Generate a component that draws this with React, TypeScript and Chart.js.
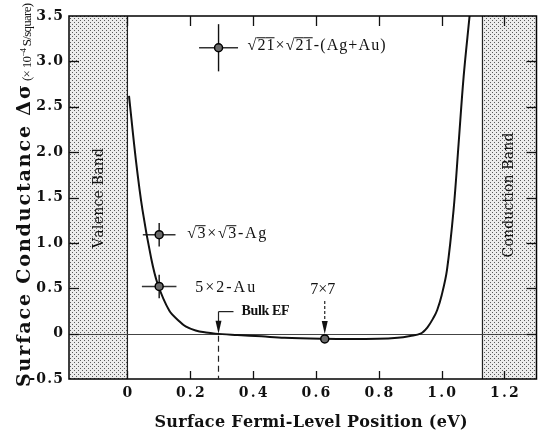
import React, { useEffect, useRef } from "react";
import { Chart, registerables } from "chart.js";
Chart.register(...registerables);

// ---- data ----
const curveX = [0.005, 0.027, 0.048, 0.075, 0.096, 0.133, 0.164, 0.185, 0.217, 0.25, 0.28, 0.35, 0.427, 0.5, 0.628, 0.7, 0.796, 0.86, 0.9, 0.933, 0.955, 0.975, 0.986, 1.0, 1.017, 1.038, 1.054, 1.07, 1.089];
const curveY = [2.62, 1.91, 1.36, 0.84, 0.55, 0.255, 0.14, 0.08, 0.035, 0.012, 0.0, -0.015, -0.03, -0.045, -0.057, -0.06, -0.057, -0.045, -0.025, 0.0, 0.07, 0.18, 0.26, 0.42, 0.7, 1.36, 2.09, 2.83, 3.5];

const structLabels = ["√21×√21-(Ag+Au)", "√3×√3-Ag", "5×2-Au", "7×7"];
const structX = [0.29, 0.101, 0.101, 0.628];
const structY = [3.15, 1.09, 0.52, -0.058];
const structXErr = [0.062, 0.052, 0.055, 0];
const structYErr = [0.26, 0.13, 0.13, 0];

const xTicks = [0, 0.2, 0.4, 0.6, 0.8, 1.0, 1.2];
const xTickLabels = ["0", "0.2", "0.4", "0.6", "0.8", "1.0", "1.2"];
const yTicks = [-0.5, 0, 0.5, 1.0, 1.5, 2.0, 2.5, 3.0, 3.5];
const yTickLabels = ["-0.5", "0", "0.5", "1.0", "1.5", "2.0", "2.5", "3.0", "3.5"];

const X_MIN = -0.186;
const X_MAX = 1.302;
const Y_MIN = -0.5;
const Y_MAX = 3.5;
const valenceBandTop = 0;
const conductionBandBottom = 1.13;
const bulkEF = 0.287;

const SERIF = "'DejaVu Serif', 'Liberation Serif', serif";
const TIMES = "'Liberation Serif', 'DejaVu Serif', serif";

type Run = { text: string; font: string; dy?: number; size?: number };

function drawRuns(
  ctx: CanvasRenderingContext2D,
  runs: Run[],
  x: number,
  y: number,
  opts: { target?: number; spacing?: number; align?: "left" | "center" | "right"; angle?: number; baseline?: CanvasTextBaseline; color?: string }
) {
  const chars: { ch: string; font: string; dy: number; w: number; over: boolean; size: number }[] = [];
  for (const r of runs) {
    ctx.font = r.font;
    let over = false;
    for (const ch of Array.from(r.text)) {
      if (ch === "√") {
        chars.push({ ch, font: r.font, dy: r.dy || 0, w: ctx.measureText(ch).width, over: false, size: r.size || 14 });
        over = true;
        continue;
      }
      if (!/[0-9]/.test(ch)) over = false;
      chars.push({ ch, font: r.font, dy: r.dy || 0, w: ctx.measureText(ch).width, over, size: r.size || 14 });
    }
  }
  const natural = chars.reduce((s, c) => s + c.w, 0);
  let sp = opts.spacing || 0;
  if (opts.target && chars.length > 1) sp = (opts.target - natural) / (chars.length - 1);
  sp = Math.max(-1, Math.min(6, sp));
  const total = natural + sp * (chars.length - 1);
  ctx.save();
  ctx.translate(x, y);
  ctx.rotate(opts.angle || 0);
  ctx.textBaseline = opts.baseline || "middle";
  ctx.textAlign = "left";
  ctx.fillStyle = opts.color || "#111";
  ctx.strokeStyle = opts.color || "#111";
  const align = opts.align || "left";
  let cx = align === "left" ? 0 : align === "center" ? -total / 2 : -total;
  for (const c of chars) {
    ctx.font = c.font;
    ctx.fillText(c.ch, cx, c.dy);
    if (c.over) {
      const oy = c.dy - c.size * 0.5;
      ctx.lineWidth = 1;
      ctx.beginPath();
      ctx.moveTo(cx - sp, oy);
      ctx.lineTo(cx + c.w, oy);
      ctx.stroke();
    }
    cx += c.w + sp;
  }
  ctx.restore();
}

function makePattern(ctx: CanvasRenderingContext2D) {
  const c = document.createElement("canvas");
  c.width = 4;
  c.height = 4;
  const g = c.getContext("2d")!;
  g.fillStyle = "#ececec";
  g.fillRect(0, 0, 4, 4);
  g.fillStyle = "#5a5a5a";
  g.fillRect(0, 0, 1, 1);
  g.fillRect(2, 2, 1, 1);
  return ctx.createPattern(c, "repeat")!;
}

function seg(ctx: CanvasRenderingContext2D, x1: number, y1: number, x2: number, y2: number) {
  ctx.beginPath();
  ctx.moveTo(x1, y1);
  ctx.lineTo(x2, y2);
  ctx.stroke();
}

function arrowDown(ctx: CanvasRenderingContext2D, x: number, tipY: number, h: number, w: number) {
  ctx.beginPath();
  ctx.moveTo(x, tipY);
  ctx.lineTo(x - w / 2, tipY - h);
  ctx.lineTo(x + w / 2, tipY - h);
  ctx.closePath();
  ctx.fill();
}

const decor = {
  id: "decor",
  beforeDatasetsDraw(chart: any) {
    const { ctx, chartArea: a } = chart;
    const xs = chart.scales.x;
    const ys = chart.scales.y;
    ctx.save();
    const pat = makePattern(ctx);
    ctx.fillStyle = pat;
    const v0 = xs.getPixelForValue(valenceBandTop);
    const c0 = xs.getPixelForValue(conductionBandBottom);
    ctx.fillRect(a.left, a.top, v0 - a.left, a.bottom - a.top);
    ctx.fillRect(c0, a.top, a.right - c0, a.bottom - a.top);
    ctx.strokeStyle = "#222";
    ctx.lineWidth = 1.2;
    seg(ctx, v0, a.top, v0, a.bottom);
    seg(ctx, c0, a.top, c0, a.bottom);
    // zero line
    const y0 = Math.round(ys.getPixelForValue(0)) + 0.5;
    ctx.strokeStyle = "#444";
    ctx.lineWidth = 1;
    seg(ctx, a.left, y0, a.right, y0);
    // error bars
    for (let i = 0; i < structX.length; i++) {
      const px = xs.getPixelForValue(structX[i]);
      const py = ys.getPixelForValue(structY[i]);
      if (structXErr[i] > 0) {
        ctx.strokeStyle = "#333";
        ctx.lineWidth = 1.4;
        seg(ctx, xs.getPixelForValue(structX[i] - structXErr[i]), py, xs.getPixelForValue(structX[i] + structXErr[i]), py);
      }
      if (structYErr[i] > 0) {
        ctx.strokeStyle = "#111";
        ctx.lineWidth = 1.4;
        seg(ctx, px, ys.getPixelForValue(structY[i] - structYErr[i]), px, ys.getPixelForValue(structY[i] + structYErr[i]));
      }
    }
    ctx.restore();
  },
  afterDraw(chart: any) {
    const { ctx, chartArea: a } = chart;
    const xs = chart.scales.x;
    const ys = chart.scales.y;
    ctx.save();
    // frame
    ctx.strokeStyle = "#000";
    ctx.lineWidth = 1.5;
    ctx.strokeRect(a.left, a.top, a.right - a.left, a.bottom - a.top);
    // inward ticks
    ctx.lineWidth = 1.3;
    ctx.strokeStyle = "#111";
    xTicks.forEach((t) => {
      const px = Math.round(xs.getPixelForValue(t)) + 0.5;
      seg(ctx, px, a.bottom, px, a.bottom - 8);
      seg(ctx, px, a.top, px, a.top + 10);
    });
    yTicks.forEach((t) => {
      if (t === Y_MIN || t === Y_MAX) return;
      const py = Math.round(ys.getPixelForValue(t)) + 0.5;
      seg(ctx, a.left, py, a.left + 10, py);
      seg(ctx, a.right, py, a.right - 10, py);
    });
    // tick labels
    const tickFont = `bold 14px ${SERIF}`;
    xTicks.forEach((t, i) => {
      drawRuns(ctx, [{ text: xTickLabels[i], font: tickFont }], xs.getPixelForValue(t), 393, { spacing: 2.2, align: "center" });
    });
    yTicks.forEach((t, i) => {
      drawRuns(ctx, [{ text: yTickLabels[i], font: tickFont }], 63, ys.getPixelForValue(t), { spacing: 1.2, align: "right" });
    });
    // axis titles
    drawRuns(ctx, [{ text: "Surface Fermi-Level Position (eV)", font: `bold 16px ${SERIF}` }], 311, 427, {
      target: 313,
      align: "center",
      baseline: "alphabetic",
    });
    drawRuns(ctx, [{ text: "Surface Conductance Δσ", font: `bold 19px ${SERIF}` }], 30, 236, {
      target: 302,
      align: "center",
      baseline: "alphabetic",
      angle: -Math.PI / 2,
    });
    drawRuns(
      ctx,
      [
        { text: "(× 10", font: `13px ${TIMES}`, size: 13 },
        { text: "−4", font: `9px ${TIMES}`, dy: -5, size: 9 },
        { text: " S/square)", font: `13px ${TIMES}`, size: 13 },
      ],
      31,
      42,
      { target: 78, align: "center", baseline: "alphabetic", angle: -Math.PI / 2 }
    );
    // band labels
    drawRuns(ctx, [{ text: "Valence Band", font: `14px ${SERIF}` }], 103, 198, {
      target: 100,
      align: "center",
      baseline: "alphabetic",
      angle: -Math.PI / 2,
    });
    drawRuns(ctx, [{ text: "Conduction Band", font: `14px ${SERIF}` }], 513, 195, {
      target: 125,
      align: "center",
      baseline: "alphabetic",
      angle: -Math.PI / 2,
    });
    // structure labels
    const lf = `16px ${TIMES}`;
    const pts = structX.map((v, i) => ({ px: xs.getPixelForValue(v), py: ys.getPixelForValue(structY[i]) }));
    drawRuns(ctx, [{ text: structLabels[0], font: lf, size: 16 }], pts[0].px + 29, pts[0].py - 2, { target: 138 });
    drawRuns(ctx, [{ text: structLabels[1], font: lf, size: 16 }], pts[1].px + 28, pts[1].py - 1, { target: 79 });
    drawRuns(ctx, [{ text: structLabels[2], font: lf, size: 16 }], pts[2].px + 36, pts[2].py + 1, { target: 60 });
    drawRuns(ctx, [{ text: structLabels[3], font: lf, size: 16 }], pts[3].px - 2, pts[3].py - 49, { target: 25, align: "center" });
    // 7x7 arrow
    ctx.fillStyle = "#111";
    ctx.strokeStyle = "#222";
    ctx.lineWidth = 1.2;
    ctx.setLineDash([3, 2]);
    seg(ctx, pts[3].px, pts[3].py - 38, pts[3].px, pts[3].py - 17);
    ctx.setLineDash([]);
    arrowDown(ctx, pts[3].px, pts[3].py - 5, 13, 6);
    // Bulk EF marker
    const bx = Math.round(xs.getPixelForValue(bulkEF)) + 0.5;
    const y0 = ys.getPixelForValue(0);
    const topY = y0 - 22;
    ctx.lineWidth = 1.2;
    seg(ctx, bx, topY, bx + 15, topY);
    seg(ctx, bx, topY, bx, y0 - 12);
    arrowDown(ctx, bx, y0, 13, 6);
    ctx.setLineDash([6, 4]);
    seg(ctx, bx, y0 + 2, bx, a.bottom);
    ctx.setLineDash([]);
    drawRuns(ctx, [{ text: "Bulk EF", font: `bold 14px ${TIMES}`, size: 14 }], bx + 23, topY, { target: 48 });
    ctx.restore();
  },
};

export default function App() {
  const ref = useRef<HTMLCanvasElement | null>(null);
  useEffect(() => {
    if (!ref.current) return;
    const chart = new Chart(ref.current, {
      type: "line",
      data: {
        datasets: [
          {
            type: "scatter",
            data: structX.map((v, i) => ({ x: v, y: structY[i] })),
            pointRadius: 4,
            pointBackgroundColor: "#6a6a6a",
            pointBorderColor: "#000",
            pointBorderWidth: 1.5,
            showLine: false,
            order: 0,
          } as any,
          {
            type: "line",
            data: curveX.map((v, i) => ({ x: v, y: curveY[i] })),
            borderColor: "#111",
            borderWidth: 2,
            pointRadius: 0,
            tension: 0.35,
            fill: false,
            order: 1,
          } as any,
        ],
      },
      options: {
        responsive: false,
        animation: false,
        layout: { padding: { left: 69, top: 16, right: 2, bottom: 51 } },
        plugins: { legend: { display: false }, tooltip: { enabled: false } },
        scales: {
          x: { type: "linear", min: X_MIN, max: X_MAX, display: false },
          y: { type: "linear", min: Y_MIN, max: Y_MAX, display: false },
        },
      },
      plugins: [decor],
    });
    return () => chart.destroy();
  }, []);
  return (
    <div style={{ position: "absolute", left: 0, top: 0, width: 542, height: 430, background: "#fff" }}>
      <canvas ref={ref} width={542} height={430} style={{ display: "block" }} />
    </div>
  );
}
